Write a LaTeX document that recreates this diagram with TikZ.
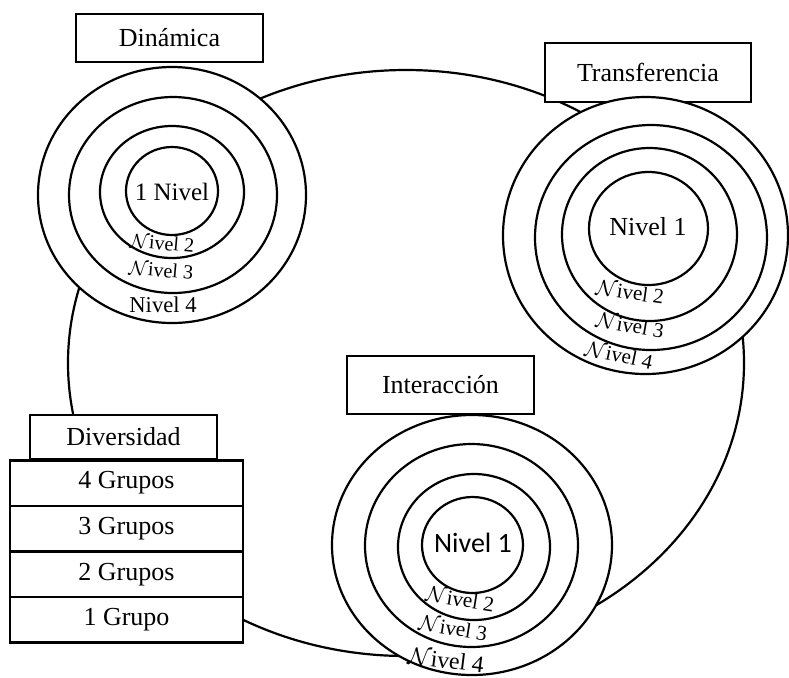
\documentclass[tikz,border=0pt]{standalone}
\usepackage{fontspec}
\setmainfont{Liberation Serif}
\newfontfamily\calibri{Carlito}
\usetikzlibrary{positioning,shapes.geometric}

\begin{document}
\begin{tikzpicture}[x=0.5pt, y=-0.5pt]
	\tikzstyle{field} = [ draw, ellipse, line width=1.1pt, inner sep=0pt];
	\tikzstyle{ring} = [ draw, ellipse, line width=1.1pt, inner sep=0pt, fill=white];
	\tikzstyle{title} = [ draw, rectangle, line width=0.6pt, fill=white, inner sep=0pt, font={\fontsize{13}{15}\selectfont}];
	\tikzstyle{grupo} = [ draw, rectangle, line width=1.3pt, fill=white, inner sep=0pt, outer sep=0pt, minimum width=116.5pt, minimum height=22.8pt, font={\fontsize{13}{15}\selectfont}];
	\tikzstyle{level} = [inner sep=0pt, font={\fontsize{10.5}{12}\selectfont}];

	\useasboundingbox (0,0) rectangle (789,677);

	\node[field, minimum width=338pt, minimum height=293pt] (campo) at (406,363) {};

	% titulos
	\node[title, minimum width=93.5pt, minimum height=24pt] (dinamica) at (169.5,38) {Din\'amica};
	\node[title, minimum width=103pt, minimum height=29.5pt] (transferencia) at (648,72.5) {Transferencia};
	\node[title, minimum width=93.5pt, minimum height=29pt] (interaccion) at (440.5,385) {Interacci\'on};
	\node[title, minimum width=93.5pt, minimum height=22pt] (diversidad) at (123.5,437) {Diversidad};

	% Dinamica
	\foreach \cx/\cy/\rx/\ry [count=\ri] in {172/195/134/128, 173/195/104/98, 172/192/72/66, 172/191/46/44} {
		\node[ring, minimum width=\rx pt, minimum height=\ry pt] (din\ri) at (\cx,\cy) {};
	}
	\node[level, font={\fontsize{12.5}{14}\selectfont}] (din-n1) at (172,192) {1 Nivel};
	\node[level, font={\fontsize{10}{12}\selectfont}, rotate=-5] (din-n2) at (162,243) {$\mathcal{N}$ivel 2};
	\node[level, font={\fontsize{10}{12}\selectfont}, rotate=-5] (din-n3) at (161,270) {$\mathcal{N}$ivel 3};
	\node[level, font={\fontsize{11.3}{13}\selectfont}] (din-n4) at (163,305) {Nivel 4};

	% Transferencia
	\foreach \cx/\cy/\rx/\ry [count=\ri] in {645.5/235.5/142.5/138.5, 651/237.5/116/112.5, 649.5/234.5/87.5/86.5, 648.5/228.5/59.5/56.5} {
		\node[ring, minimum width=\rx pt, minimum height=\ry pt] (tra\ri) at (\cx,\cy) {};
	}
	\node[level, font={\fontsize{13}{15}\selectfont}] (tra-n1) at (648,227) {Nivel 1};
	\foreach \t/\lx/\ly/\a in {2/630/292/-8, 3/630/325/-10, 4/619/355/-12} {
		\node[level, rotate=\a] (tra-n\t) at (\lx,\ly) {$\mathcal{N}$ivel \t};
	}

	% Interaccion
	\foreach \cx/\cy/\rx/\ry [count=\ri] in {472/545/140/130, 471.5/545.5/106.5/101.5, 474/547/76/73, 472.5/545/50.5/48} {
		\node[ring, minimum width=\rx pt, minimum height=\ry pt] (int\ri) at (\cx,\cy) {};
	}
	\node[level, font={\calibri\fontsize{14}{16}\selectfont}] (int-n1) at (473,543) {Nivel 1};
	\foreach \t/\lx/\ly/\a/\s in {2/460/599/-9/10.6, 3/453/628/-9/10.6, 4/446/660/-7/11.8} {
		\node[level, rotate=\a, font={\fontsize{\s}{14}\selectfont}] (int-n\t) at (\lx,\ly) {$\mathcal{N}$ivel \t};
	}

	\def \grupos {4 Grupos,3 Grupos,2 Grupos,1 Grupo}

	\foreach \x [count=\xi] in \grupos {
		\ifnum 1 < \xi
			\pgfmathparse{int(\xi-1)}
			\let \li \pgfmathresult
			\node[grupo, below=0pt of g\li] (g\xi) {\x};
		\else
			\node[grupo] (g\xi) at (126.5,483) {\x};
		\fi
	}
\end{tikzpicture}
\end{document}
